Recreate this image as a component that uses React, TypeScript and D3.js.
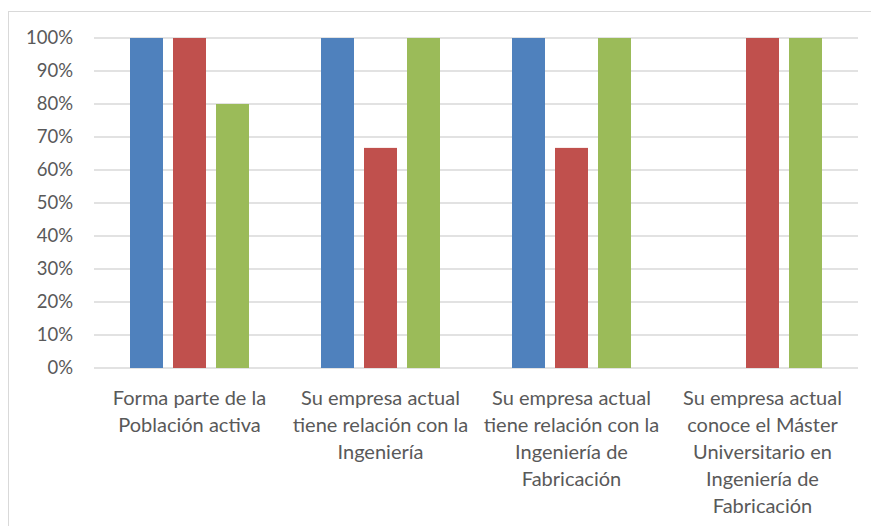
import React from "react";
import * as d3 from "d3";

const categories: string[][] = [
  ["Forma parte de la", "Población activa"],
  ["Su empresa actual", "tiene relación con la", "Ingeniería"],
  ["Su empresa actual", "tiene relación con la", "Ingeniería de", "Fabricación"],
  ["Su empresa actual", "conoce el Máster", "Universitario en", "Ingeniería de", "Fabricación"],
];
const seriesBlue = [1, 1, 1, 0];
const seriesRed = [1, 0.667, 0.667, 1];
const seriesGreen = [0.8, 1, 1, 1];
const series = [seriesBlue, seriesRed, seriesGreen];
const colors = ["#4F81BD", "#C0504D", "#9BBB59"];
const ticks = [0, 0.1, 0.2, 0.3, 0.4, 0.5, 0.6, 0.7, 0.8, 0.9, 1];

const W = 871;
const H = 526;
const left = 94;
const right = 858;
const top = 38;
const bottom = 368;
const font = "Lato, 'Open Sans', sans-serif";

export default function App() {
  const x = d3.scaleBand<number>().domain(d3.range(categories.length)).range([left, right]);
  const y = d3.scaleLinear().domain([0, 1]).range([bottom, top]);
  const barW = 33;
  const step = 43;
  const fmt = d3.format(".0%");
  return (
    <svg width={W} height={H} style={{ position: "absolute", left: 0, top: 0, background: "#fff" }}>
      <rect x={8.5} y={11.5} width={W + 10} height={H + 10} fill="#fff" stroke="#D9D9D9" />
      {ticks.map((t) => (
        <g key={t}>
          <line x1={left} x2={right} y1={y(t)} y2={y(t)} stroke="#D9D9D9" strokeWidth={1.3} />
          <text x={73} y={y(t)} dy="0.35em" textAnchor="end" fontFamily={font} fontSize={18.5} fill="#595959">
            {fmt(t)}
          </text>
        </g>
      ))}
      {categories.map((c, i) => {
        const cx = x(i)! + x.bandwidth() / 2;
        return (
          <g key={i}>
            {series.map((s, j) =>
              s[i] > 0 ? (
                <rect
                  key={j}
                  x={cx + (j - 1) * step - barW / 2}
                  y={y(s[i])}
                  width={barW}
                  height={y(0) - y(s[i])}
                  fill={colors[j]}
                />
              ) : null
            )}
            <text textAnchor="middle" fontFamily={font} fontSize={20} fill="#595959">
              {c.map((line, k) => (
                <tspan key={k} x={cx} y={398 + k * 27} dy="0.35em">
                  {line}
                </tspan>
              ))}
            </text>
          </g>
        );
      })}
    </svg>
  );
}
